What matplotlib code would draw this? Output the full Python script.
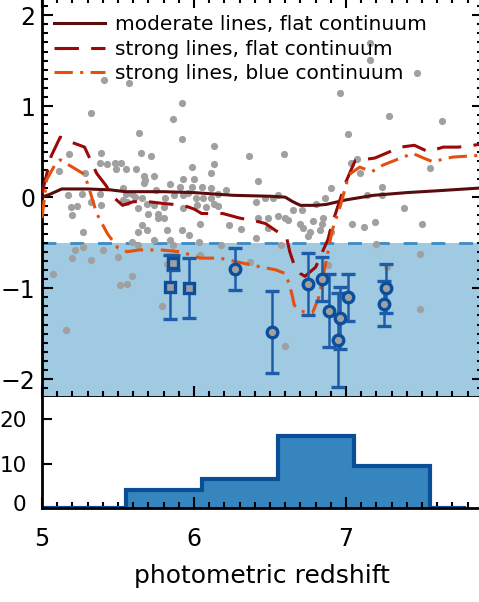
import matplotlib
matplotlib.use("Agg")
import matplotlib.pyplot as plt
import matplotlib.transforms as mtransforms
from matplotlib.ticker import MultipleLocator, FixedLocator
from matplotlib.lines import Line2D

# ---------------- data ----------------
# model tracks
z_mod = [5.00, 5.05, 5.13, 5.30, 5.45, 5.55, 5.80, 6.00, 6.26, 6.50, 6.60, 6.65, 6.70,
         6.80, 6.87, 7.00, 7.18, 7.40, 7.60, 7.88]
v_mod = [0.00, 0.03, 0.09, 0.09, 0.08, 0.06, 0.06, 0.05, 0.02, 0.01, 0.00, -0.05, -0.09,
         -0.09, -0.08, -0.03, 0.02, 0.05, 0.07, 0.10]

z_flat = [5.00, 5.06, 5.12, 5.20, 5.28, 5.36, 5.42, 5.47, 5.53, 5.60, 5.70, 5.80, 5.93,
          6.00, 6.05, 6.19, 6.30, 6.40, 6.47, 6.61, 6.63, 6.66, 6.70, 6.73, 6.80, 6.88,
          6.91, 6.96, 7.00, 7.06, 7.19, 7.36, 7.45, 7.54, 7.64, 7.74, 7.88]
v_flat = [0.04, 0.45, 0.66, 0.60, 0.55, 0.26, 0.13, 0.00, -0.09, -0.05, -0.05, -0.07, -0.09,
          -0.13, -0.18, -0.18, -0.23, -0.26, -0.29, -0.45, -0.60, -0.75, -0.84, -0.87, -0.77,
          -0.47, -0.29, -0.03, 0.17, 0.40, 0.43, 0.55, 0.57, 0.50, 0.55, 0.55, 0.58]

z_blue = [5.00, 5.03, 5.09, 5.12, 5.20, 5.27, 5.30, 5.36, 5.43, 5.50, 5.56, 5.64, 5.78,
          5.91, 6.04, 6.17, 6.28, 6.39, 6.45, 6.54, 6.60, 6.63, 6.65, 6.66, 6.72, 6.78,
          6.82, 6.86, 6.91, 6.96, 7.01, 7.03, 7.09, 7.17, 7.24, 7.36, 7.44, 7.51, 7.57,
          7.70, 7.88]
v_blue = [-0.23, 0.19, 0.37, 0.41, 0.33, 0.26, 0.15, -0.18, -0.40, -0.56, -0.60, -0.58,
          -0.58, -0.60, -0.67, -0.67, -0.71, -0.75, -0.77, -0.80, -0.84, -0.97, -1.11,
          -1.19, -1.26, -1.27, -1.11, -0.78, -0.36, -0.11, 0.19, 0.26, 0.33, 0.28, 0.35,
          0.43, 0.48, 0.43, 0.39, 0.44, 0.46]

# grey sample points
z_grey = [5.41, 5.57, 5.32, 5.92, 5.86, 5.64, 5.92, 5.18, 5.39, 5.65, 5.72, 5.38, 5.43,
          5.48, 5.52, 5.49, 5.55, 5.62, 5.11, 5.28, 5.67, 5.74, 5.93, 5.67, 5.84, 5.17,
          5.26, 5.53, 5.55, 5.75, 5.19, 5.23, 5.39, 5.61, 5.81, 5.87, 5.93,
          6.13, 6.36, 6.59, 5.99, 6.13, 6.11, 6.00, 6.42, 6.05, 6.11, 6.21, 5.96, 6.01,
          6.06, 6.11, 6.16, 6.08, 6.16, 6.41, 6.47, 6.52, 6.55, 6.90, 6.86, 6.80,
          5.32, 5.38, 5.20, 5.27, 5.53, 5.59, 5.56, 5.63, 5.66, 5.69, 5.70, 5.74, 5.76,
          5.76, 5.80, 5.80, 5.66, 5.63, 5.69, 5.74, 5.82, 5.84, 5.86, 5.92, 5.97, 5.93,
          5.91, 5.99, 6.02, 6.04, 6.13, 6.23, 6.03, 6.18, 5.59, 5.63, 5.68,
          5.22, 5.20, 5.27, 5.40, 5.50, 5.32, 5.07, 5.16, 5.51, 5.56, 5.59, 5.79, 6.04,
          5.82,
          6.31, 6.42, 6.49, 6.49, 6.55, 6.60, 6.62, 6.65, 6.71, 6.70, 6.72, 6.76, 6.75,
          6.78, 6.84, 6.85, 6.83, 6.90, 6.41, 6.57, 6.37, 6.88,
          7.14, 7.24, 7.24, 7.38, 7.04, 7.12, 7.19, 7.50, 7.20, 7.49, 7.49, 6.60, 7.27,
          7.16, 7.16, 7.47, 6.96, 7.28, 7.63, 7.01, 7.03, 7.07, 7.09, 7.55]
v_grey = [1.29, 1.25, 0.93, 1.03, 0.86, 0.70, 0.64, 0.47, 0.49, 0.48, 0.45, 0.38, 0.36,
          0.38, 0.37, 0.31, 0.31, 0.31, 0.29, 0.27, 0.23, 0.23, 0.20, 0.16, 0.14, 0.02,
          0.04, 0.10, 0.04, 0.08, -0.11, -0.10, -0.09, 0.00, -0.01, 0.02, 0.02,
          0.56, 0.45, 0.47, 0.33, 0.36, 0.27, 0.20, 0.18, 0.11, 0.10, 0.08, 0.05, -0.01,
          -0.01, -0.01, 0.04, -0.11, -0.10, -0.05, -0.01, -0.01, 0.02, 0.10, -0.01, -0.08,
          -0.05, 0.04, -0.20, -0.38, -0.03, 0.04, -0.05, -0.12, -0.01, -0.07, -0.18, -0.09,
          -0.18, -0.23, -0.11, -0.23, -0.31, -0.38, -0.36, -0.47, -0.36, -0.47, -0.53,
          -0.36, -0.42, -0.12, 0.11, 0.11, -0.09, -0.29, -0.07, -0.31, -0.49, -0.53, -0.49,
          -0.53, 0.19,
          -0.58, -0.67, -0.55, -0.58, -0.66, -0.69, -0.85, -1.46, -0.97, -0.95, -0.87,
          -1.20, -0.64, -0.73,
          -0.35, -0.23, -0.23, -0.34, -0.21, -0.23, -0.25, -0.14, -0.14, -0.30, -0.34,
          -0.38, -0.43, -0.26, -0.30, -0.23, -0.36, -0.38, -0.45, -0.53, -0.71, -0.75,
          0.02, 0.11, 0.02, -0.12, -0.29, -0.33, -0.27, -0.29, -0.51, -0.62, -1.23, -1.64,
          -0.77, 1.69, 1.51, 1.36, 1.14, 0.89, 0.84, 0.69, 0.38, 0.42, 0.27, 0.32]

# measured objects (squares and circles) with errors
z_sq = [5.86, 5.84, 5.97]
v_sq = [-0.72, -0.99, -1.00]
e_sq = [0.08, 0.35, 0.33]
z_ci = [6.27, 6.51, 6.75, 6.84, 6.89, 6.96, 6.95, 7.01, 7.26, 7.25]
v_ci = [-0.79, -1.48, -0.95, -0.90, -1.25, -1.33, -1.57, -1.10, -1.00, -1.17]
e_ci = [0.23, 0.45, 0.34, 0.24, 0.40, 0.34, 0.52, 0.26, 0.27, 0.25]

limit_v = -0.5

# histogram of photometric redshifts
hist_edges = [5.00, 5.55, 6.05, 6.55, 7.05, 7.55, 7.79]
hist_counts = [0, 4, 6.4, 16.2, 9.5, 0]

legend_labels = ["moderate lines, flat continuum",
                 "strong lines, flat continuum",
                 "strong lines, blue continuum"]

# ---------------- style ----------------
c_mod = "#5a0c0c"
c_flat = "#9a0808"
c_blue = "#e4500e"
c_shade = "#9fcae2"
c_limit = "#3b8ac4"
c_grey = "#a0a0a0"
c_mark = "#0b4f9c"
c_err = "#1d5ca8"
c_hfill = "#3685bf"
c_hedge = "#0a4e98"

plt.rcParams["font.family"] = ["DejaVu Sans"]

fig = plt.figure(figsize=(4.79, 6.02), dpi=100)
W, H = 479.0, 602.0
ax = fig.add_axes([42 / W, 1 - 397.3 / H, 440.8 / W, 400.3 / H])
axh = fig.add_axes([42 / W, 1 - 507.7 / H, 440.8 / W, 110.4 / H])

lw = 2.2
ax.axhspan(-2.2, limit_v, color=c_shade, lw=0, zorder=0)
ax.axhline(limit_v, color=c_limit, lw=2.0, dashes=(5, 5), zorder=1)
ax.plot(z_grey, v_grey, "o", color=c_grey, ms=5.2, mew=0, zorder=2)

ax.plot(z_mod, v_mod, color=c_mod, lw=lw, solid_capstyle="butt", zorder=3)
ax.plot(z_flat, v_flat, color=c_flat, lw=lw, dashes=(8, 4), zorder=3)
ax.plot(z_blue, v_blue, color=c_blue, lw=lw, dashes=(6, 2.4, 1, 2.4), zorder=3)

ax.errorbar(z_sq, v_sq, yerr=e_sq, fmt="s", ms=7, mfc=c_grey, mec=c_mark, mew=2.4,
            ecolor=c_err, elinewidth=1.8, capsize=4.8, capthick=1.8, zorder=4)
ax.errorbar(z_ci, v_ci, yerr=e_ci, fmt="o", ms=7.6, mfc=c_grey, mec=c_mark, mew=2.4,
            ecolor=c_err, elinewidth=1.8, capsize=4.8, capthick=1.8, zorder=4)

ax.set_xlim(5.0, 7.9)
ax.set_ylim(-2.2, 2.2)
ax.xaxis.set_major_locator(FixedLocator([5, 6, 7]))
ax.xaxis.set_minor_locator(MultipleLocator(0.1))
ax.yaxis.set_major_locator(FixedLocator([-2, -1, 0, 1, 2]))
ax.yaxis.set_minor_locator(MultipleLocator(0.1))
ax.tick_params(which="both", direction="in", top=True, right=True, width=1.5,
               labelbottom=False, labelsize=17, pad=5)
ax.tick_params(which="major", length=8)
ax.tick_params(which="minor", length=4)
for s in ax.spines.values():
    s.set_linewidth(2.0)

handles = [Line2D([], [], color=c_mod, lw=lw),
           Line2D([], [], color=c_flat, lw=lw, dashes=(8, 4)),
           Line2D([], [], color=c_blue, lw=lw, dashes=(6, 2.4, 1, 2.4))]
ax.legend(handles, legend_labels, loc="upper left",
          bbox_to_anchor=(12 / 440.8, 1 - 18 / 400.3),
          frameon=False, fontsize=14.5, handlelength=2.55, handletextpad=0.5,
          labelspacing=0.28, borderpad=0, borderaxespad=0)

# histogram
axh.stairs(hist_counts, hist_edges, fill=True, color=c_hfill, lw=0, zorder=1)
axh.stairs(hist_counts, hist_edges, color=c_hedge, lw=3, zorder=2)
axh.set_xlim(5.0, 7.9)
axh.set_ylim(0, 25)
axh.xaxis.set_major_locator(FixedLocator([5, 6, 7]))
axh.xaxis.set_minor_locator(MultipleLocator(0.1))
axh.yaxis.set_major_locator(FixedLocator([0, 10, 20]))
axh.tick_params(which="both", direction="in", top=False, right=False, width=1.5)
axh.tick_params(axis="x", which="major", length=8, pad=14, labelsize=17)
axh.tick_params(axis="x", which="minor", length=4)
axh.tick_params(axis="y", which="major", length=7, pad=11, labelsize=15.5)
for s in axh.spines.values():
    s.set_linewidth(2.0)
axh.spines["top"].set_visible(False)
axh.set_xlabel("photometric redshift", fontsize=18, labelpad=9)

# lift the "0" label of the histogram slightly, as in the reference
zero_tick = axh.yaxis.get_major_ticks()[0]
zero_tick.label1.set_transform(zero_tick.label1.get_transform() +
                               mtransforms.ScaledTranslation(0, 5 / 100, fig.dpi_scale_trans))

fig.savefig("out.png", dpi=100)
